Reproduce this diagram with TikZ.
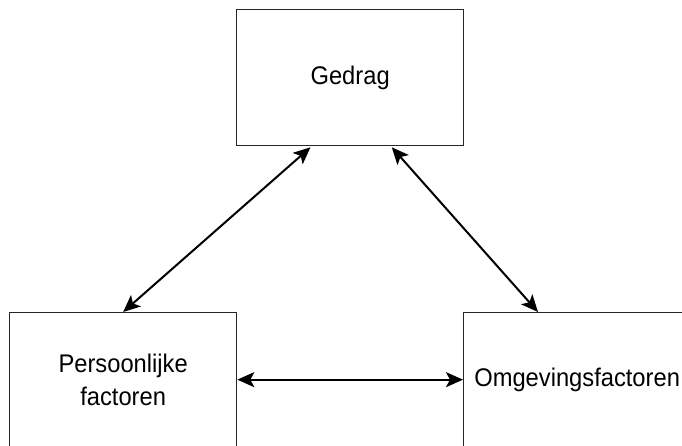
\documentclass[tikz,border=0pt]{standalone}
\usepackage{fontspec}
\setmainfont{Liberation Sans}[FakeStretch=0.93]
\usetikzlibrary{calc,arrows.meta}
\begin{document}
\begin{tikzpicture}[x=1pt,y=-1pt,
  box/.style={draw=black!85,line width=1.3pt,minimum width=227pt,minimum height=136pt,inner sep=0pt,
    align=center,font=\fontsize{25.5}{33}\selectfont,anchor=north west},
  tip/.tip={Stealth[length=17pt,width=15pt,inset=4pt]},
  link/.style={line width=2pt,tip-tip}]
\useasboundingbox (0,0) rectangle (682,445);
\node[box] (ged) at (236,9) {Gedrag};
\node[box,minimum height=134pt] (pers) at (9,312) {Persoonlijke\\factoren};
\node[box,minimum height=134pt] (omg) at (463,312) {Omgevingsfactoren};
\draw[link] ($(ged.south west)+(74.5,1)$) -- (pers.north);
\draw[link] ($(ged.south east)+(-72.5,1)$) -- ($(omg.north west)+(75,0)$);
\draw[link] (pers.east) -- (omg.west);
\end{tikzpicture}
\end{document}
